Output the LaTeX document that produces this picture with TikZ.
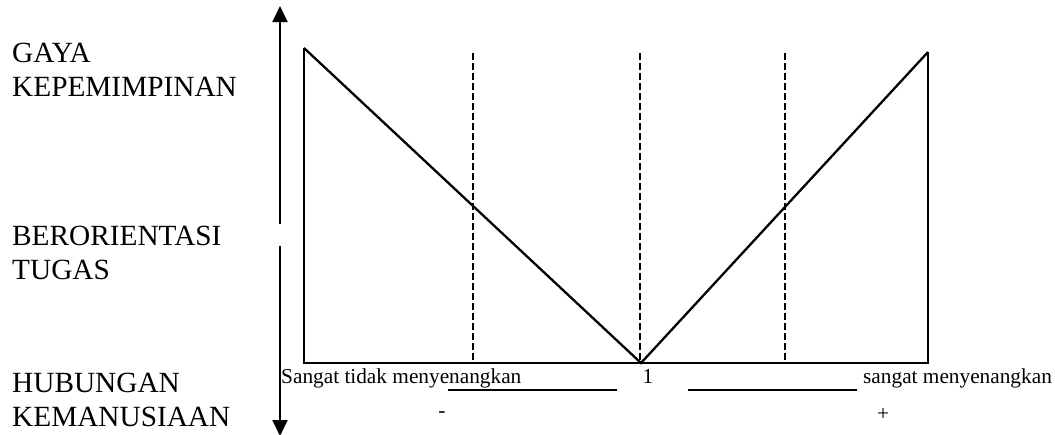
\documentclass[tikz,border=0pt]{standalone}
\usepackage{fontspec}
\setmainfont{Liberation Serif}
\usetikzlibrary{arrows.meta,positioning}

\begin{document}
\begin{tikzpicture}[
    x=1pt, y=-1pt,
    bigtext/.style={
        font=\fontsize{29.3}{34}\selectfont, anchor=north west, inner sep=0pt, align=left
    },
    smalltext/.style={
        font=\fontsize{21.3}{24}\selectfont, inner sep=0pt
    },
    frameline/.style={
        line width=2.3pt, line join=miter
    },
    guideline/.style={
        line width=2.4pt, dash pattern=on 6.5pt off 3.5pt
    },
    axisline/.style={
        line width=1.9pt, -{Triangle[length=16pt, width=15pt]}
    },
    scaleline/.style={
        line width=1.4pt
    }
]
\useasboundingbox (0,0) rectangle (1055,434);

% Axis on the left (split in two)
\coordinate (Atop) at (280,6);
\coordinate (Agap1) at (280,224);
\coordinate (Agap2) at (280,246);
\coordinate (Abot) at (280,436);
\draw[axisline] (Agap1) -- (Atop);
\draw[axisline] (Agap2) -- (Abot);

% Left labels
\node[bigtext] (gaya) at (12,43) {GAYA\\KEPEMIMPINAN};
\node[bigtext] (tugas) at (12,226) {BERORIENTASI\\TUGAS};
\node[bigtext] (hubungan) at (12,373) {HUBUNGAN\\KEMANUSIAAN};

% Box corners
\coordinate (TL) at (304,48);
\coordinate (BL) at (304,363);
\coordinate (BR) at (928,363);
\coordinate (TR) at (928,52);
\coordinate (V) at (641,363);

\draw[frameline] (TL) -- (BL) -- (BR) -- (TR);
\draw[frameline] (TL) -- (V) -- (TR);

% Dashed guides
\coordinate (D1top) at (473,53);
\coordinate (D1bot) at (473,363);
\coordinate (D2top) at (640,53);
\coordinate (D2bot) at (640,363);
\coordinate (D3top) at (785,53);
\coordinate (D3bot) at (785,363);
\draw[guideline] (D1top) -- (D1bot);
\draw[guideline] (D2top) -- (D2bot);
\draw[guideline] (D3top) -- (D3bot);

% Scale below the box
\node[smalltext, anchor=base west] (tidak) at (281,383) {Sangat tidak menyenangkan};
\node[smalltext, anchor=base] (satu) at (648,383) {1};
\node[smalltext, anchor=base west] (sangat) at (863,383) {sangat menyenangkan};

\coordinate (U1a) at (448,390);
\coordinate (U1b) at (617,390);
\coordinate (U2a) at (688,390);
\coordinate (U2b) at (857,390);
\draw[scaleline] (U1a) -- (U1b);
\draw[scaleline] (U2a) -- (U2b);

\node[smalltext] (minus) at (442,415) {-};
\node[smalltext] (plus) at (883,414) {+};

\end{tikzpicture}
\end{document}
